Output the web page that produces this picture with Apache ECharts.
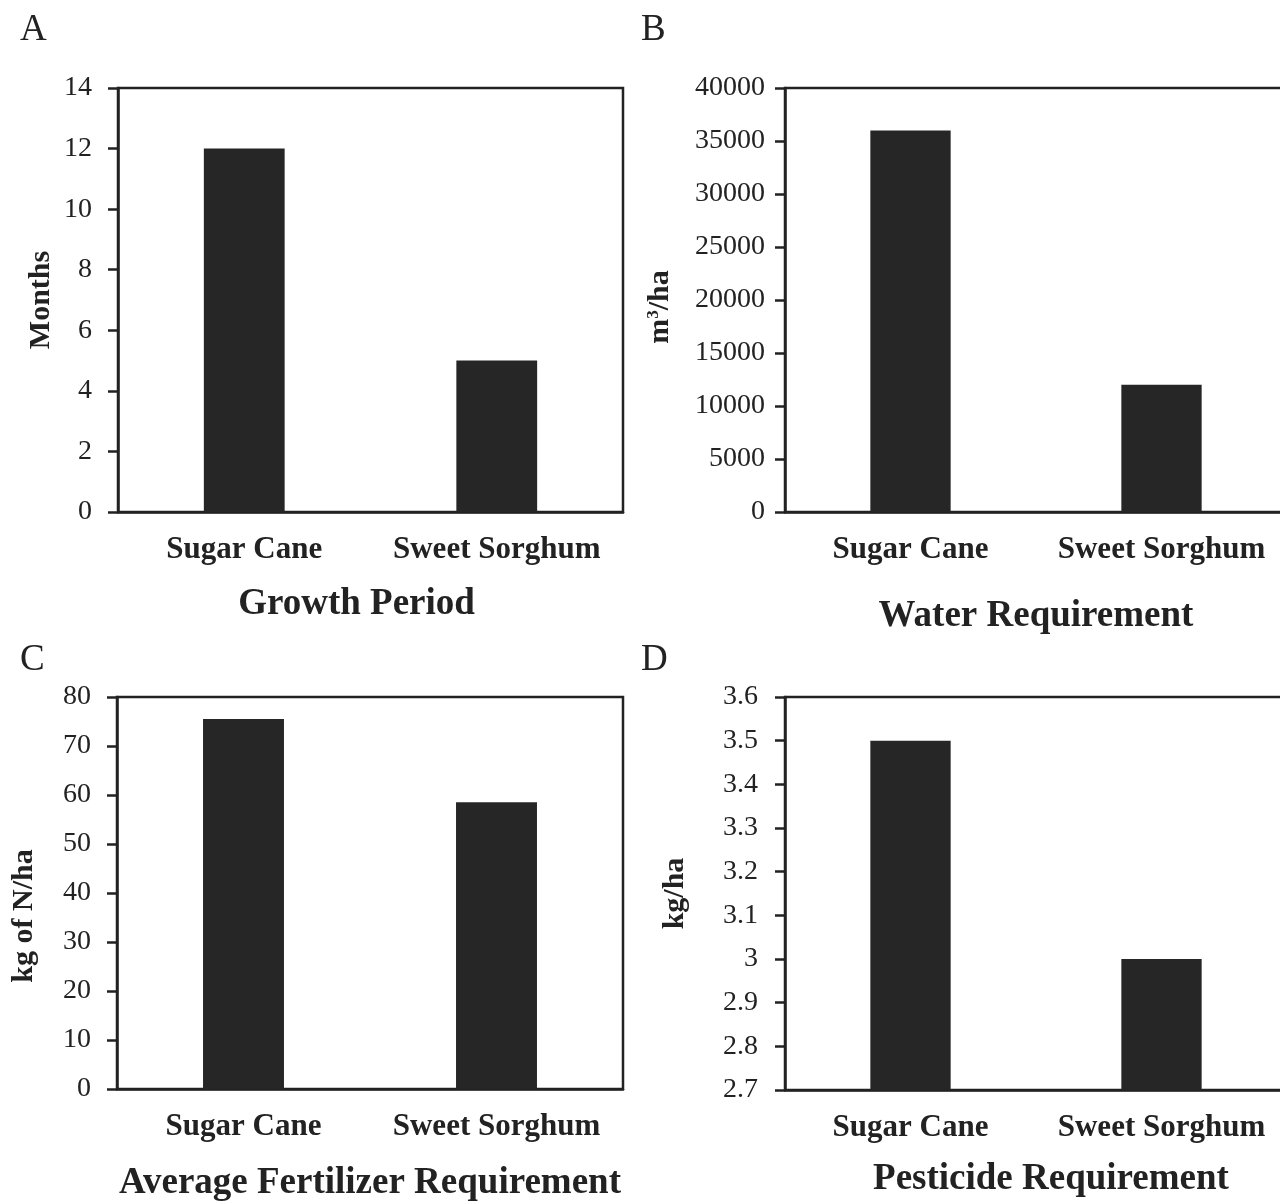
<!DOCTYPE html>
<html lang="en">
<head>
    <meta charset="utf-8">
    <title>Sugar Cane vs Sweet Sorghum</title>
    <script src="https://cdn.jsdelivr.net/npm/echarts@6/dist/echarts.min.js"></script>
    <style>
        html, body {margin: 0; padding: 0; background: #fff; overflow: hidden;}
    </style>
</head>
<body>
<!-- a bit wider than the page: the right panels run past the edge, as in the figure -->
<div id="main" style="width: 1310px;height:1203px;"></div>
<script type="application/javascript">
    // data
    var crops = ['Sugar Cane', 'Sweet Sorghum'];
    var growthMonths = [12, 5];
    var waterM3 = [36000, 12000];
    var fertilizerN = [75.5, 58.5];
    var pesticideKg = [3.5, 3.0];

    var panelLetters = ['A', 'B', 'C', 'D'];
    var panelTitles = ['Growth Period', 'Water Requirement', 'Average Fertilizer Requirement', 'Pesticide Requirement'];
    var yNames = ['Months', 'm{sup|3}/ha', 'kg of N/ha', 'kg/ha'];

    var font = "'Liberation Serif', 'Times New Roman', serif";
    var ink = '#222';

    var chart = echarts.init(document.getElementById('main'));

    // grids: A top-left, B top-right (cut by page edge), C, D
    var grids = [
        {left: 118, top: 88, width: 505, height: 424},
        {left: 785, top: 88, width: 502, height: 424},
        {left: 117, top: 697, width: 506, height: 393},
        {left: 785, top: 697, width: 502, height: 393}
    ];
    var yRanges = [
        {min: 0, max: 14, interval: 2, margin: 26, gap: 62},
        {min: 0, max: 40000, interval: 5000, margin: 20, gap: 110},
        {min: 0, max: 80, interval: 10, margin: 26, gap: 78},
        {min: 2.7, max: 3.6, interval: 0.1, margin: 27, gap: 95}
    ];
    var titleGaps = [74, 86, 76, 71];
    var titleShift = [[0, 28, 0, 0], [0, 0, 0, 0], [0, 0, 0, 0], [0, 0, 0, 30]];
    var nameShift = [[0, 0, 0, 0], [0, 14, 0, 0], [0, 46, 0, 0], [0, 0, 0, 0]];
    var values = [growthMonths, waterM3, fertilizerN, pesticideKg];
    var letterPos = [[20, 12], [641, 12], [20, 642], [641, 642]];

    var option = {
        animation: false,
        backgroundColor: '#fff',
        textStyle: {fontFamily: font, color: ink},
        title: panelLetters.map(function (t, i) {
            return {
                text: t, left: letterPos[i][0], top: letterPos[i][1], padding: 0,
                textStyle: {fontFamily: font, fontSize: 37, fontWeight: 'normal', color: ink}
            };
        }),
        grid: grids.map(function (g) {
            return Object.assign({show: true, borderColor: ink, borderWidth: 2.5, backgroundColor: 'transparent'}, g);
        }),
        xAxis: grids.map(function (g, i) {
            return {
                type: 'category',
                gridIndex: i,
                data: crops,
                name: panelTitles[i],
                nameLocation: 'middle',
                nameGap: titleGaps[i],
                nameTextStyle: {
                    fontFamily: font, fontSize: 37, fontWeight: 'bold', color: ink,
                    padding: titleShift[i]
                },
                axisLine: {lineStyle: {color: ink, width: 2.5}},
                axisTick: {show: false},
                axisLabel: {
                    interval: 0, hideOverlap: false,
                    fontFamily: font, fontSize: 31, fontWeight: 'bold', color: ink, margin: 22
                }
            };
        }),
        yAxis: grids.map(function (g, i) {
            var r = yRanges[i];
            return {
                type: 'value',
                gridIndex: i,
                min: r.min, max: r.max, interval: r.interval,
                name: yNames[i],
                nameLocation: 'middle',
                nameGap: r.gap,
                nameRotate: 90,
                nameTextStyle: {
                    fontFamily: font, fontSize: 30, fontWeight: 'bold', color: ink,
                    padding: nameShift[i],
                    rich: {sup: {fontFamily: font, fontSize: 17, fontWeight: 'bold', color: ink, verticalAlign: 'top', padding: [0, 0, 12, 0]}}
                },
                splitLine: {show: false},
                axisLine: {show: true, lineStyle: {color: ink, width: 2.5}},
                axisTick: {show: true, inside: false, length: 10, lineStyle: {color: ink, width: 2.5}},
                axisLabel: {
                    fontFamily: font, fontSize: 28, color: ink, margin: r.margin,
                    formatter: function (v) { return String(Math.round(v * 10) / 10); }
                }
            };
        }),
        series: values.map(function (v, i) {
            return {
                type: 'bar',
                xAxisIndex: i,
                yAxisIndex: i,
                data: v,
                barWidth: '32%',
                itemStyle: {color: '#262626'}
            };
        })
    };

    chart.setOption(option);
</script>
</body>
</html>
